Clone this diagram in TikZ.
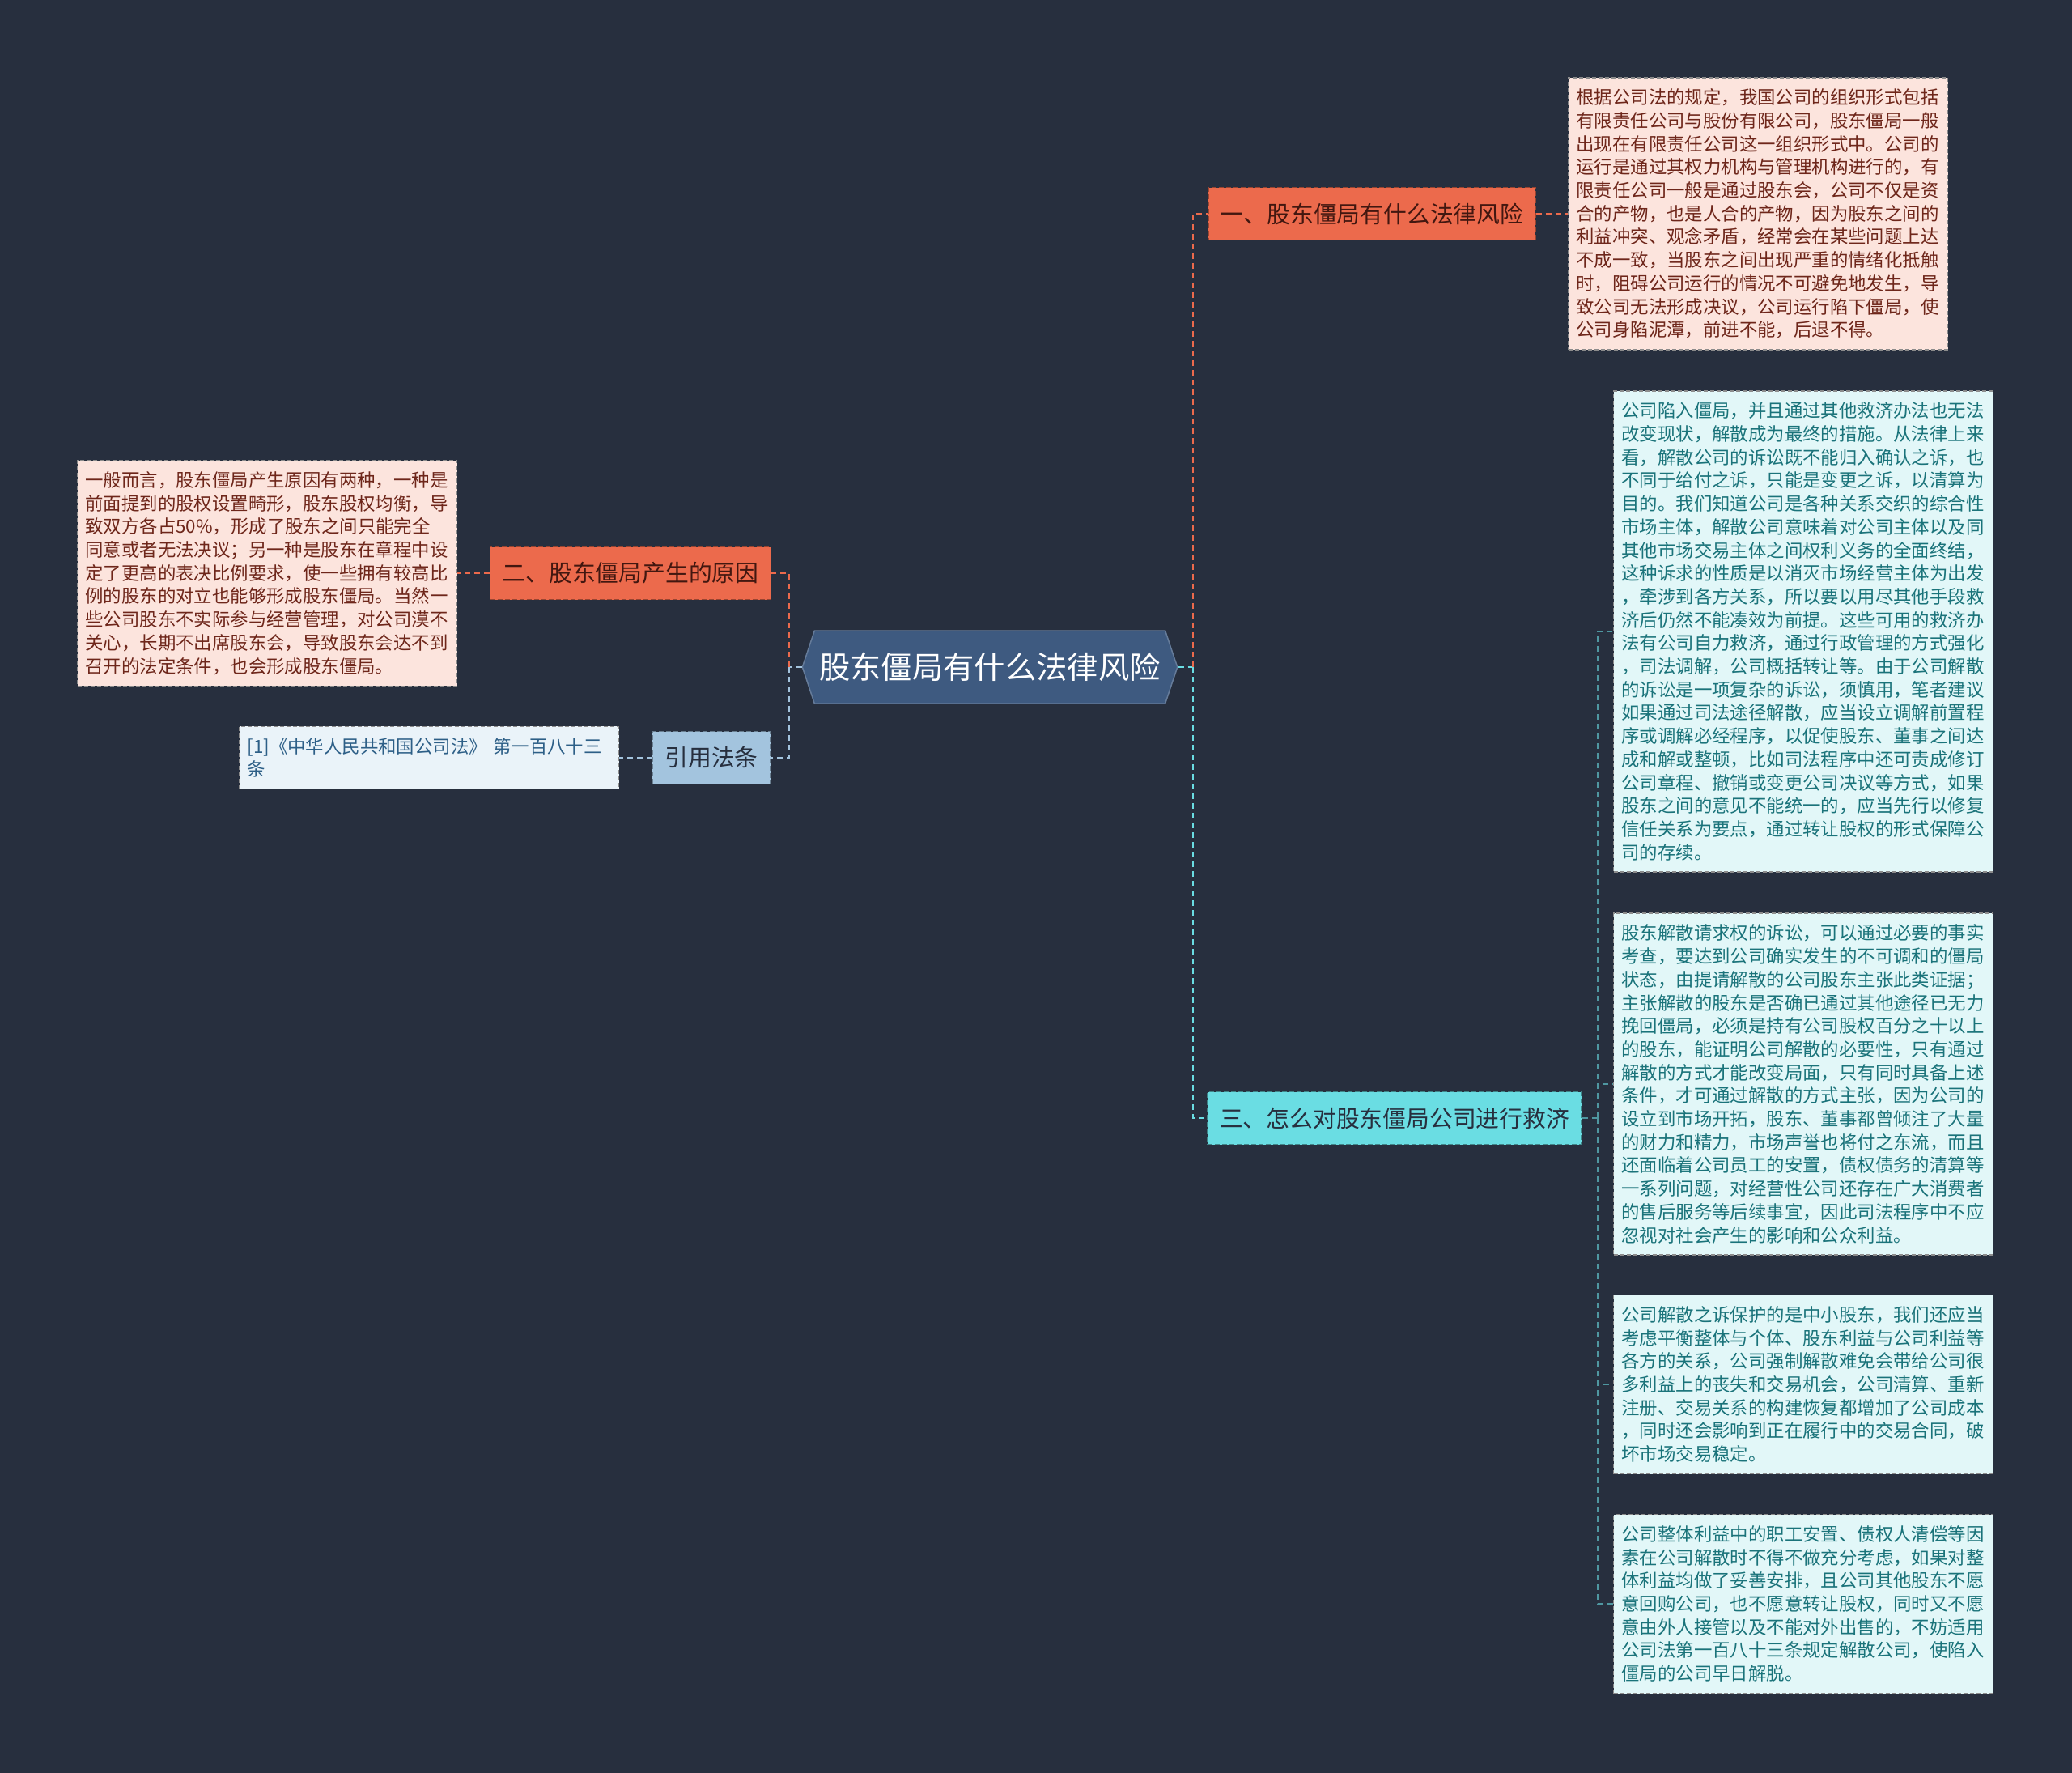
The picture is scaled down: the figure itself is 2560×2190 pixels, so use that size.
\documentclass[tikz,border=0pt]{standalone}
\usepackage{fontspec}
\setmainfont{Noto Sans CJK SC}
\usetikzlibrary{shapes.symbols}

\definecolor{bgcol}{RGB}{39,47,62}
\definecolor{rootcol}{RGB}{62,90,128}
\definecolor{orangecol}{RGB}{236,106,76}
\definecolor{cyancol}{RGB}{106,221,227}
\definecolor{bluecol}{RGB}{163,196,222}
\definecolor{pinkleaf}{RGB}{252,228,221}
\definecolor{cyanleaf}{RGB}{226,247,248}
\definecolor{blueleaf}{RGB}{234,243,249}
\definecolor{pinktext}{RGB}{110,38,26}
\definecolor{cyantext}{RGB}{26,115,122}
\definecolor{bluetext}{RGB}{45,95,135}

\begin{document}
\begin{tikzpicture}[x=1pt, y=-1pt,
    link/.style={dash pattern=on 7pt off 5pt, line width=2pt},
    branch/.style={rectangle, draw, dash pattern=on 6pt off 3pt, line width=1.5pt,
        minimum height=65pt, inner xsep=15pt, font=\fontsize{28.8}{32}\selectfont},
    leaf/.style={rectangle, draw=black!45, dash pattern=on 5pt off 3pt, line width=1.5pt,
        text width=449pt, inner xsep=10pt, inner ysep=14pt, align=left,
        font=\fontsize{22.4}{28.7}\selectfont}]

% Background
\fill[bgcol] (0,0) rectangle (2560,2190);
\useasboundingbox (0,0) rectangle (2560,2190);

% Root
\node[shape=signal, signal to=west and east, signal pointer angle=143,
    fill=rootcol, draw=rootcol!80!white, line width=1.5pt, text=white,
    minimum height=90pt, inner xsep=6pt,
    font=\fontsize{38.3}{42}\selectfont] (root) at (1223,824) {股东僵局有什么法律风险};

% Branches
\node[branch, fill=orangecol, draw=orangecol!65!black, text=pinktext!60!black]
    (risk) at (1695,264) {一、股东僵局有什么法律风险};
\node[branch, fill=orangecol, draw=orangecol!65!black, text=pinktext!60!black]
    (cause) at (779,708) {二、股东僵局产生的原因};
\node[branch, fill=bluecol, draw=bluecol!65!black, text=bgcol]
    (law) at (879,936) {引用法条};
\node[branch, fill=cyancol, draw=cyancol!60!black, text=bgcol]
    (remedy) at (1723,1381) {三、怎么对股东僵局公司进行救济};

% Leaves
\node[leaf, fill=pinkleaf, text=pinktext] (riskText) at (2172,264) {%
根据公司法的规定，我国公司的组织形式包括\\
有限责任公司与股份有限公司，股东僵局一般\\
出现在有限责任公司这一组织形式中。公司的\\
运行是通过其权力机构与管理机构进行的，有\\
限责任公司一般是通过股东会，公司不仅是资\\
合的产物，也是人合的产物，因为股东之间的\\
利益冲突、观念矛盾，经常会在某些问题上达\\
不成一致，当股东之间出现严重的情绪化抵触\\
时，阻碍公司运行的情况不可避免地发生，导\\
致公司无法形成决议，公司运行陷下僵局，使\\
公司身陷泥潭，前进不能，后退不得。};

\node[leaf, fill=pinkleaf, text=pinktext] (causeText) at (330,708) {%
一般而言，股东僵局产生原因有两种，一种是\\
前面提到的股权设置畸形，股东股权均衡，导\\
致双方各占50\%，形成了股东之间只能完全\\
同意或者无法决议；另一种是股东在章程中设\\
定了更高的表决比例要求，使一些拥有较高比\\
例的股东的对立也能够形成股东僵局。当然一\\
些公司股东不实际参与经营管理，对公司漠不\\
关心，长期不出席股东会，导致股东会达不到\\
召开的法定条件，也会形成股东僵局。};

\node[leaf, fill=blueleaf, text=bluetext] (lawText) at (530,936) {%
[1]《中华人民共和国公司法》 第一百八十三\\
条};

\node[leaf, fill=cyanleaf, text=cyantext] (remedyA) at (2228,780) {%
公司陷入僵局，并且通过其他救济办法也无法\\
改变现状，解散成为最终的措施。从法律上来\\
看，解散公司的诉讼既不能归入确认之诉，也\\
不同于给付之诉，只能是变更之诉，以清算为\\
目的。我们知道公司是各种关系交织的综合性\\
市场主体，解散公司意味着对公司主体以及同\\
其他市场交易主体之间权利义务的全面终结，\\
这种诉求的性质是以消灭市场经营主体为出发\\
，牵涉到各方关系，所以要以用尽其他手段救\\
济后仍然不能凑效为前提。这些可用的救济办\\
法有公司自力救济，通过行政管理的方式强化\\
，司法调解，公司概括转让等。由于公司解散\\
的诉讼是一项复杂的诉讼，须慎用，笔者建议\\
如果通过司法途径解散，应当设立调解前置程\\
序或调解必经程序，以促使股东、董事之间达\\
成和解或整顿，比如司法程序中还可责成修订\\
公司章程、撤销或变更公司决议等方式，如果\\
股东之间的意见不能统一的，应当先行以修复\\
信任关系为要点，通过转让股权的形式保障公\\
司的存续。};

\node[leaf, fill=cyanleaf, text=cyantext] (remedyB) at (2228,1339) {%
股东解散请求权的诉讼，可以通过必要的事实\\
考查，要达到公司确实发生的不可调和的僵局\\
状态，由提请解散的公司股东主张此类证据；\\
主张解散的股东是否确已通过其他途径已无力\\
挽回僵局，必须是持有公司股权百分之十以上\\
的股东，能证明公司解散的必要性，只有通过\\
解散的方式才能改变局面，只有同时具备上述\\
条件，才可通过解散的方式主张，因为公司的\\
设立到市场开拓，股东、董事都曾倾注了大量\\
的财力和精力，市场声誉也将付之东流，而且\\
还面临着公司员工的安置，债权债务的清算等\\
一系列问题，对经营性公司还存在广大消费者\\
的售后服务等后续事宜，因此司法程序中不应\\
忽视对社会产生的影响和公众利益。};

\node[leaf, fill=cyanleaf, text=cyantext] (remedyC) at (2228,1710) {%
公司解散之诉保护的是中小股东，我们还应当\\
考虑平衡整体与个体、股东利益与公司利益等\\
各方的关系，公司强制解散难免会带给公司很\\
多利益上的丧失和交易机会，公司清算、重新\\
注册、交易关系的构建恢复都增加了公司成本\\
，同时还会影响到正在履行中的交易合同，破\\
坏市场交易稳定。};

\node[leaf, fill=cyanleaf, text=cyantext] (remedyD) at (2228,1981) {%
公司整体利益中的职工安置、债权人清偿等因\\
素在公司解散时不得不做充分考虑，如果对整\\
体利益均做了妥善安排，且公司其他股东不愿\\
意回购公司，也不愿意转让股权，同时又不愿\\
意由外人接管以及不能对外出售的，不妨适用\\
公司法第一百八十三条规定解散公司，使陷入\\
僵局的公司早日解脱。};

% Connectors
\coordinate (jl) at (975,824);
\coordinate (jr) at (1474,824);
\coordinate (jc) at (1974,1381);

\draw[link, bluecol] (root.west) -- (jl);
\draw[link, orangecol] (jl) |- (cause.east);
\draw[link, bluecol] (jl) |- (law.east);
\draw[link, cyancol] (root.east) -- (jr);
\draw[link, orangecol] (jr) |- (risk.west);
\draw[link, cyancol] (jr) |- (remedy.west);

\draw[link, orangecol] (risk.east) -- (riskText.west);
\draw[link, orangecol] (cause.west) -- (causeText.east);
\draw[link, bluecol] (law.west) -- (lawText.east);

\draw[link, cyancol!60!bgcol, line width=1.5pt] (remedy.east) -- (jc);
\foreach \n in {remedyA,remedyB,remedyC,remedyD}
    \draw[link, cyancol!60!bgcol, line width=1.5pt] (jc) |- (\n.west);

\end{tikzpicture}
\end{document}
